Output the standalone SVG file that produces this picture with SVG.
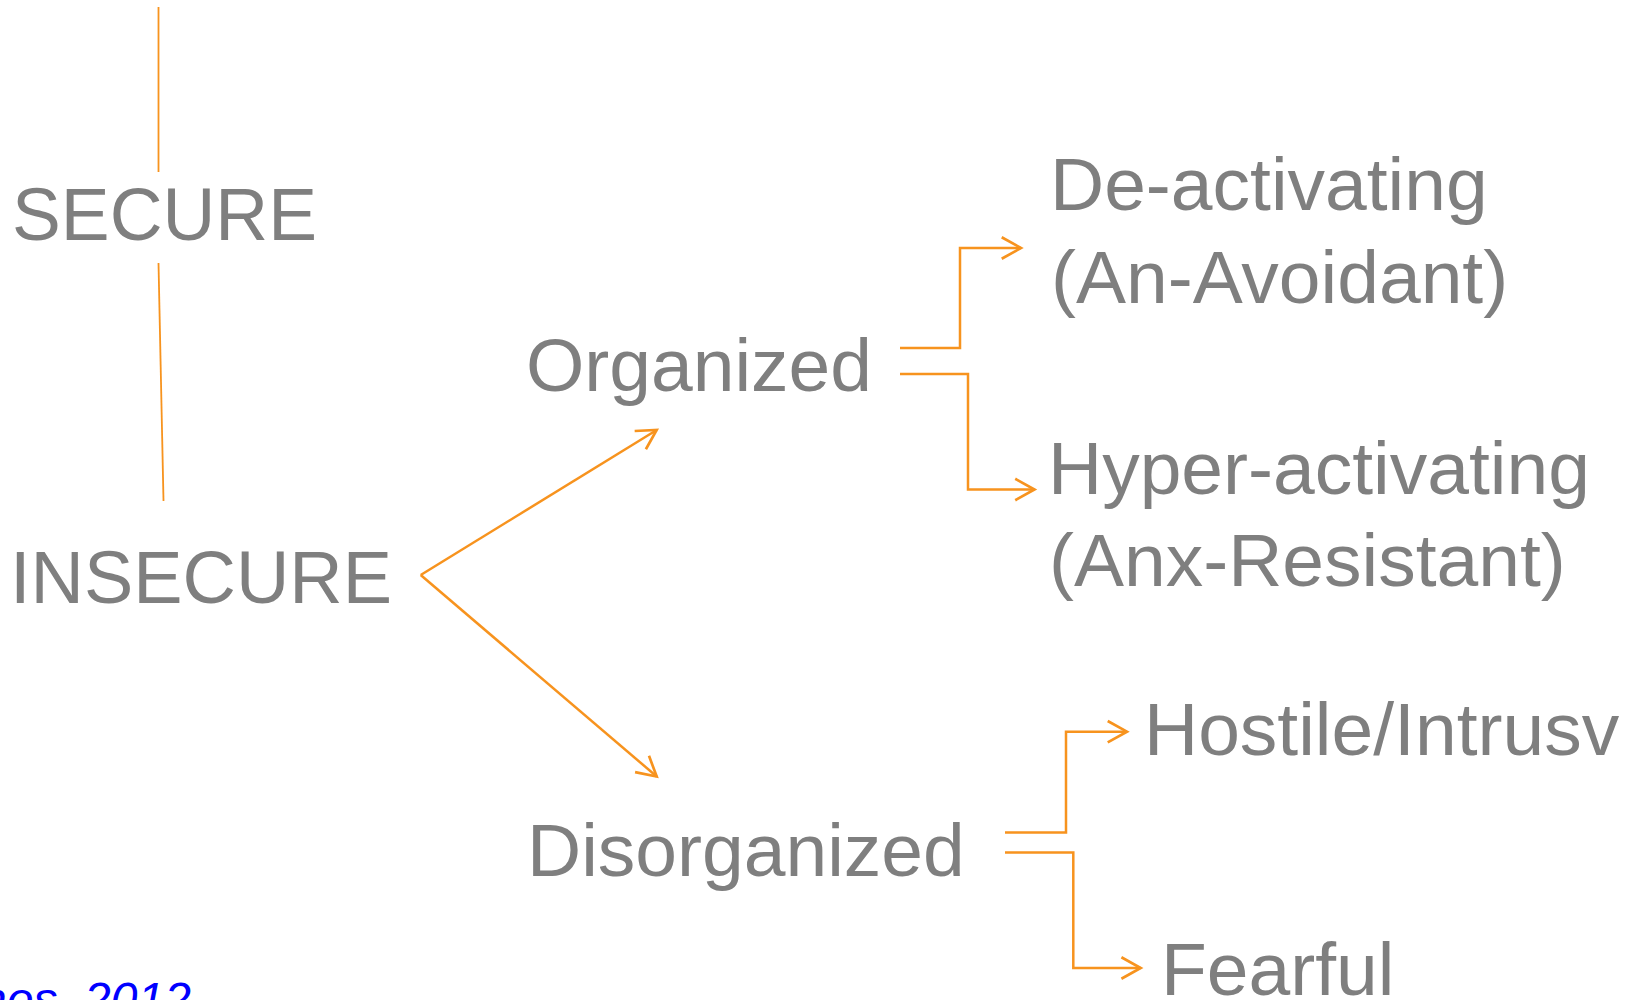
<svg xmlns="http://www.w3.org/2000/svg" width="1632" height="1000" viewBox="0 0 1632 1000">
<style>
.t{font-family:"Liberation Sans",Arial,sans-serif;font-size:75px;fill:#7f7f7f}
.c{fill:none;stroke:#f7931e;stroke-width:2.5;stroke-linejoin:miter}
.v{fill:none;stroke:#f7931e;stroke-width:1.8}
.ref{font-family:"Liberation Sans",Arial,sans-serif;font-size:48px;font-style:italic;fill:#0000ff}
</style>
<defs>
<marker id="ah" markerUnits="userSpaceOnUse" markerWidth="30" markerHeight="30" viewBox="-22 -14 26 28" refX="0" refY="0" orient="auto" overflow="visible">
<path d="M-18,-10 L0,0 L-18,10" fill="none" stroke="#f7931e" stroke-width="2.5"/>
</marker>
</defs>
<rect width="1632" height="1000" fill="#ffffff"/>
<g id="connectors">
<line class="v" x1="158.5" y1="7" x2="158.5" y2="172"/>
<line class="v" x1="158.5" y1="263" x2="163.5" y2="501"/>
<line class="c" x1="420.7" y1="575" x2="656.7" y2="430" marker-end="url(#ah)"/>
<line class="c" x1="420.7" y1="575" x2="656.7" y2="776.5" marker-end="url(#ah)"/>
<polyline class="c" points="900,348 960,348 960,248 1021,248" marker-end="url(#ah)"/>
<polyline class="c" points="900,374 968,374 968,489.5 1034.5,489.5" marker-end="url(#ah)"/>
<polyline class="c" points="1005,832.5 1066,832.5 1066,731.7 1127,731.7" marker-end="url(#ah)"/>
<polyline class="c" points="1005,852.5 1073.3,852.5 1073.3,968 1140.7,968" marker-end="url(#ah)"/>
</g>
<g id="node-secure"><text class="t" x="12" y="240" textLength="305" lengthAdjust="spacingAndGlyphs">SECURE</text></g>
<g id="node-insecure"><text class="t" x="10" y="603" textLength="382" lengthAdjust="spacingAndGlyphs">INSECURE</text></g>
<g id="node-organized"><text class="t" x="526" y="391">Organized</text></g>
<g id="node-disorganized"><text class="t" x="527" y="876">Disorganized</text></g>
<g id="node-deactivating"><text class="t" x="1050" y="210">De-activating</text><text class="t" x="1051" y="303">(An-Avoidant)</text></g>
<g id="node-hyperactivating"><text class="t" x="1048" y="494">Hyper-activating</text><text class="t" x="1049" y="586">(Anx-Resistant)</text></g>
<g id="node-hostile"><text class="t" x="1144" y="755">Hostile/Intrusv</text></g>
<g id="node-fearful"><text class="t" x="1161" y="995">Fearful</text></g>
<g id="citation"><text class="ref" x="-20" y="1016">nos, 2012</text></g>
</svg>
